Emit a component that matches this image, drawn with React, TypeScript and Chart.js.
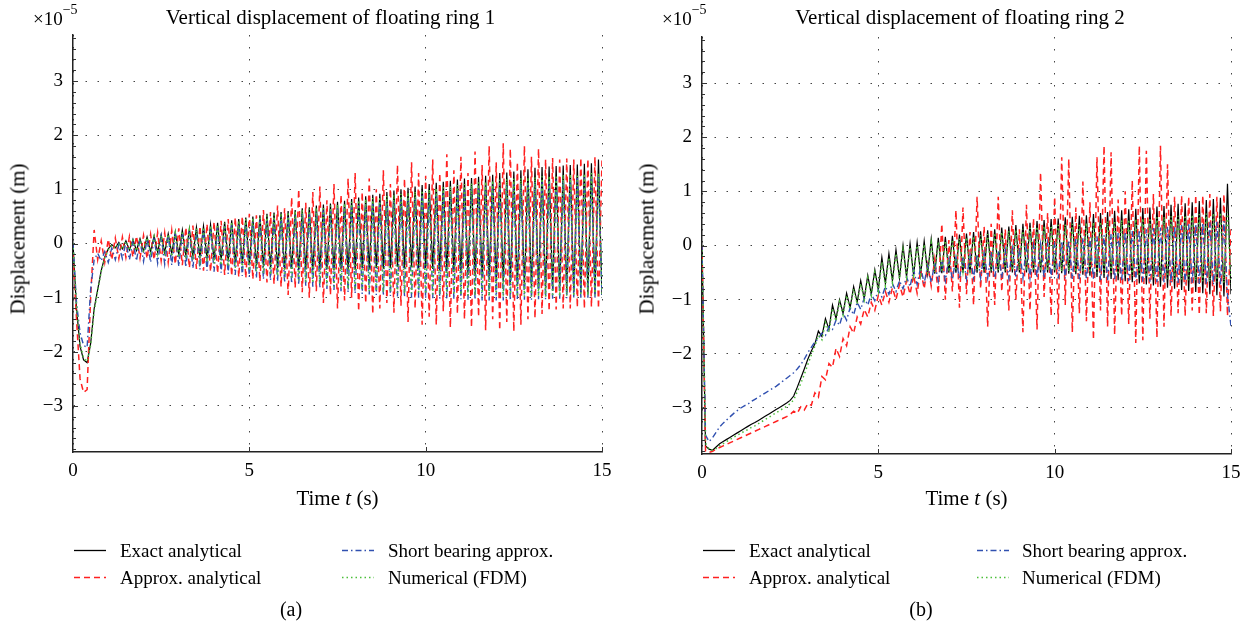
import React, { useEffect, useRef } from "react";
import { Chart, registerables } from "chart.js";

Chart.register(...registerables);

// ---------- data (values in units of 1e-5 m), sampled every 0.1 s from 0 to 15 s ----------
const TIME_STEP = 0.1;
const X_TICKS = [0, 5, 10, 15];
const Y_TICKS = [-3, -2, -1, 0, 1, 2, 3];
const Y_MIN = -3.85;
const Y_MAX = 3.85;
const MINOR_STEP = 0.2;

const SERIES_NAMES = ["Exact analytical", "Approx. analytical", "Short bearing approx.", "Numerical (FDM)"];

// Ring 1
const RING1_EXACT = [
  0, -1.2, -1.9, -2.15, -2.2, -1.85, -1.2, -0.85, -0.5, -0.25,
  -0.1, -0.02, -0.08, 0.02, -0.1, 0.05, -0.12, 0.07, -0.13, 0.09,
  -0.14, 0.12, -0.15, 0.14, -0.16, 0.16, -0.17, 0.18, -0.18, 0.21,
  -0.2, 0.25, -0.22, 0.27, -0.24, 0.3, -0.25, 0.32, -0.27, 0.35,
  -0.3, 0.38, -0.31, 0.4, -0.33, 0.43, -0.35, 0.45, -0.37, 0.48,
  -0.4, 0.5, -0.41, 0.52, -0.43, 0.55, -0.44, 0.57, -0.46, 0.58,
  -0.48, 0.6, -0.47, 0.62, -0.5, 0.65, -0.48, 0.67, -0.5, 0.7,
  -0.5, 0.72, -0.48, 0.74, -0.5, 0.77, -0.47, 0.79, -0.5, 0.82,
  -0.48, 0.85, -0.46, 0.87, -0.48, 0.9, -0.45, 0.92, -0.47, 0.95,
  -0.45, 0.98, -0.43, 1.0, -0.46, 1.03, -0.44, 1.05, -0.46, 1.08,
  -0.45, 1.1, -0.47, 1.12, -0.5, 1.14, -0.52, 1.16, -0.53, 1.18,
  -0.55, 1.2, -0.58, 1.21, -0.6, 1.23, -0.63, 1.25, -0.66, 1.27,
  -0.7, 1.3, -0.72, 1.31, -0.75, 1.33, -0.78, 1.35, -0.8, 1.37,
  -0.83, 1.4, -0.84, 1.41, -0.86, 1.42, -0.87, 1.43, -0.88, 1.44,
  -0.9, 1.45, -0.9, 1.46, -0.91, 1.47, -0.92, 1.48, -0.93, 1.55,
  -0.95,
];
const RING1_APPROX = [
  -0.2, -1.4, -2.5, -2.75, -2.7, -1.0, 0.25, -0.3, 0.05, -0.35,
  0.08, -0.3, 0.1, -0.28, 0.12, -0.26, 0.13, -0.25, 0.14, -0.27,
  0.15, -0.28, 0.17, -0.3, 0.2, -0.32, 0.2, -0.35, 0.24, -0.38,
  0.28, -0.4, 0.3, -0.45, 0.33, -0.47, 0.32, -0.5, 0.36, -0.52,
  0.4, -0.55, 0.42, -0.58, 0.45, -0.6, 0.48, -0.62, 0.5, -0.64,
  0.55, -0.66, 0.52, -0.7, 0.62, -0.72, 0.58, -0.75, 0.7, -0.8,
  0.65, -0.95, 0.85, -0.82, 1.0, -0.9, 0.75, -1.0, 0.95, -0.88,
  1.05, -1.1, 0.8, -0.95, 1.1, -1.2, 0.9, -1.05, 1.2, -1.0,
  1.3, -1.25, 0.95, -1.1, 1.2, -1.3, 1.0, -1.2, 1.35, -1.1,
  1.1, -1.28, 1.45, -1.15, 1.2, -1.45, 1.5, -1.2, 1.3, -1.5,
  1.25, -1.35, 1.55, -1.5, 1.3, -1.25, 1.65, -1.55, 1.35, -1.3,
  1.6, -1.4, 1.3, -1.55, 1.7, -1.35, 1.45, -1.6, 1.8, -1.4,
  1.5, -1.6, 1.85, -1.45, 1.75, -1.62, 1.5, -1.5, 1.8, -1.4,
  1.6, -1.38, 1.75, -1.3, 1.55, -1.25, 1.58, -1.22, 1.55, -1.2,
  1.57, -1.2, 1.55, -1.18, 1.58, -1.2, 1.56, -1.17, 1.6, -1.2,
  1.55,
];
const RING1_SHORT = [
  0, -1.1, -1.65, -1.88, -1.92, -0.85, -0.3, -0.18, -0.32, -0.15,
  -0.35, -0.08, -0.3, -0.02, -0.28, 0.02, -0.3, 0.05, -0.32, 0.07,
  -0.33, 0.09, -0.35, 0.11, -0.36, 0.13, -0.38, 0.15, -0.4, 0.17,
  -0.42, 0.2, -0.44, 0.22, -0.46, 0.24, -0.48, 0.26, -0.5, 0.28,
  -0.52, 0.3, -0.54, 0.32, -0.56, 0.34, -0.58, 0.36, -0.6, 0.38,
  -0.62, 0.4, -0.64, 0.43, -0.66, 0.45, -0.68, 0.47, -0.7, 0.49,
  -0.72, 0.51, -0.74, 0.53, -0.76, 0.55, -0.78, 0.57, -0.8, 0.59,
  -0.82, 0.61, -0.84, 0.63, -0.86, 0.65, -0.88, 0.67, -0.9, 0.69,
  -0.92, 0.71, -0.93, 0.73, -0.94, 0.75, -0.95, 0.77, -0.96, 0.79,
  -0.97, 0.81, -0.98, 0.83, -0.99, 0.85, -1.0, 0.87, -1.0, 0.89,
  -1.01, 0.91, -1.01, 0.93, -1.02, 0.95, -1.02, 0.97, -1.03, 0.99,
  -1.03, 1.0, -1.04, 1.02, -1.04, 1.04, -1.05, 1.05, -1.05, 1.07,
  -1.05, 1.08, -1.05, 1.1, -1.05, 1.11, -1.04, 1.12, -1.04, 1.14,
  -1.04, 1.15, -1.03, 1.16, -1.03, 1.17, -1.02, 1.18, -1.02, 1.19,
  -1.01, 1.2, -1.01, 1.21, -1.0, 1.22, -1.0, 1.23, -1.0, 1.24,
  -1.0,
];
const RING1_FDM = [
  0, -1.15, -1.85, -2.12, -2.18, -1.88, -1.25, -0.88, -0.52, -0.27,
  -0.12, -0.03, -0.09, 0.01, -0.11, 0.04, -0.13, 0.06, -0.14, 0.08,
  -0.16, 0.11, -0.18, 0.13, -0.2, 0.15, -0.22, 0.17, -0.24, 0.2,
  -0.26, 0.23, -0.28, 0.25, -0.3, 0.28, -0.32, 0.3, -0.34, 0.33,
  -0.37, 0.35, -0.4, 0.38, -0.42, 0.4, -0.45, 0.42, -0.47, 0.45,
  -0.5, 0.47, -0.52, 0.5, -0.55, 0.52, -0.58, 0.54, -0.6, 0.56,
  -0.63, 0.58, -0.66, 0.6, -0.68, 0.62, -0.71, 0.64, -0.73, 0.66,
  -0.75, 0.68, -0.78, 0.7, -0.8, 0.72, -0.82, 0.74, -0.84, 0.77,
  -0.85, 0.8, -0.86, 0.82, -0.88, 0.84, -0.88, 0.86, -0.9, 0.88,
  -0.9, 0.9, -0.91, 0.92, -0.92, 0.94, -0.92, 0.96, -0.93, 0.98,
  -0.93, 1.0, -0.94, 1.02, -0.94, 1.04, -0.95, 1.06, -0.95, 1.08,
  -0.95, 1.1, -0.96, 1.11, -0.96, 1.13, -0.96, 1.14, -0.97, 1.16,
  -0.97, 1.18, -0.97, 1.19, -0.98, 1.2, -0.98, 1.21, -0.98, 1.22,
  -0.98, 1.23, -0.98, 1.24, -0.98, 1.25, -0.98, 1.26, -0.97, 1.27,
  -0.97, 1.28, -0.97, 1.28, -0.96, 1.29, -0.96, 1.3, -0.96, 1.3,
  -0.95,
];

// Ring 2
const RING2_EXACT = [
  0, -3.7, -3.76, -3.78, -3.72, -3.66, -3.62, -3.58, -3.54, -3.5,
  -3.46, -3.42, -3.38, -3.34, -3.3, -3.27, -3.23, -3.19, -3.15, -3.11,
  -3.07, -3.03, -2.99, -2.95, -2.91, -2.86, -2.78, -2.62, -2.45, -2.28,
  -2.1, -1.95, -1.82, -1.58, -1.68, -1.35, -1.55, -1.1, -1.35, -1.0,
  -1.25, -0.88, -1.15, -0.76, -1.05, -0.65, -0.98, -0.55, -0.9, -0.45,
  -0.82, -0.22, -0.7, -0.15, -0.65, -0.08, -0.6, 0.0, -0.58, 0.03,
  -0.55, 0.06, -0.54, 0.08, -0.52, 0.12, -0.52, 0.14, -0.51, 0.16,
  -0.5, 0.18, -0.5, 0.2, -0.5, 0.22, -0.5, 0.25, -0.5, 0.26,
  -0.5, 0.28, -0.5, 0.3, -0.5, 0.33, -0.5, 0.35, -0.5, 0.38,
  -0.5, 0.4, -0.5, 0.42, -0.5, 0.45, -0.5, 0.47, -0.5, 0.49,
  -0.5, 0.5, -0.51, 0.52, -0.52, 0.53, -0.53, 0.55, -0.54, 0.56,
  -0.56, 0.58, -0.58, 0.6, -0.6, 0.62, -0.62, 0.64, -0.64, 0.65,
  -0.66, 0.67, -0.68, 0.68, -0.7, 0.69, -0.72, 0.7, -0.74, 0.72,
  -0.76, 0.73, -0.78, 0.75, -0.8, 0.77, -0.82, 0.78, -0.84, 0.8,
  -0.86, 0.82, -0.88, 0.84, -0.9, 0.86, -0.92, 0.88, -0.94, 1.14,
  -0.9,
];
const RING2_APPROX = [
  0, -3.8, -3.82, -3.8, -3.76, -3.73, -3.7, -3.67, -3.64, -3.61,
  -3.58, -3.55, -3.52, -3.49, -3.46, -3.43, -3.4, -3.37, -3.34, -3.31,
  -3.28, -3.25, -3.22, -3.19, -3.16, -3.12, -3.06, -3.1, -2.98, -3.04,
  -2.92, -2.95, -2.72, -2.8, -2.42, -2.48, -2.18, -2.25, -1.9, -2.05,
  -1.72, -1.85, -1.5, -1.62, -1.32, -1.45, -1.18, -1.32, -1.05, -1.2,
  -0.92, -1.1, -0.85, -1.05, -0.78, -1.0, -0.72, -0.95, -0.65, -0.9,
  -0.55, -0.88, -0.45, -0.8, -0.35, -0.75, -0.25, -0.9, 0.4, -1.0,
  0.1, -0.85, 0.65, -1.15, 0.7, -0.9, 0.25, -1.1, 0.9, -0.8,
  0.35, -1.5, 0.4, -1.1, 0.9, -0.85, 0.3, -1.2, 0.65, -1.0,
  0.3, -1.6, 0.75, -1.2, 0.5, -1.55, 1.35, -0.95, 0.6, -1.3,
  0.9, -1.45, 1.63, -1.1, 1.6, -1.6, 0.7, -1.25, 1.18, -1.4,
  0.8, -1.74, 1.63, -1.2, 1.84, -1.5, 1.72, -1.65, 0.85, -1.3,
  1.0, -1.45, 1.2, -1.8, 1.84, -1.75, 1.75, -1.35, 0.95, -1.7,
  1.84, -1.5, 1.5, -1.3, 0.9, -1.25, 0.92, -1.3, 0.9, -1.2,
  0.93, -1.28, 0.92, -1.25, 0.95, -1.3, 0.9, -1.22, 0.95, -1.3,
  0.3,
];
const RING2_SHORT = [
  0, -3.5, -3.62, -3.55, -3.45, -3.35, -3.28, -3.22, -3.16, -3.1,
  -3.05, -3.0, -2.96, -2.93, -2.88, -2.84, -2.8, -2.76, -2.72, -2.68,
  -2.64, -2.6, -2.55, -2.5, -2.45, -2.4, -2.35, -2.28, -2.2, -2.1,
  -1.98, -1.88, -1.78, -1.72, -1.62, -1.66, -1.5, -1.55, -1.38, -1.47,
  -1.25, -1.38, -1.15, -1.28, -1.05, -1.18, -0.97, -1.1, -0.9, -1.02,
  -0.82, -0.95, -0.76, -0.9, -0.7, -0.85, -0.65, -0.8, -0.58, -0.76,
  -0.45, -0.72, -0.4, -0.7, -0.36, -0.68, -0.32, -0.66, -0.28, -0.65,
  -0.25, -0.63, -0.22, -0.62, -0.2, -0.62, -0.18, -0.6, -0.16, -0.6,
  -0.14, -0.6, -0.12, -0.6, -0.1, -0.6, -0.08, -0.6, -0.06, -0.6,
  -0.04, -0.6, -0.02, -0.6, 0.0, -0.6, 0.02, -0.6, 0.04, -0.6,
  0.06, -0.61, 0.08, -0.61, 0.1, -0.62, 0.12, -0.62, 0.14, -0.63,
  0.15, -0.63, 0.17, -0.64, 0.19, -0.64, 0.21, -0.65, 0.23, -0.65,
  0.25, -0.66, 0.27, -0.66, 0.29, -0.67, 0.3, -0.67, 0.32, -0.68,
  0.33, -0.68, 0.35, -0.69, 0.36, -0.69, 0.38, -0.7, 0.39, -0.7,
  0.4, -0.71, 0.42, -0.71, 0.43, -0.72, 0.44, -0.72, 0.45, -0.9,
  -1.5,
];
const RING2_FDM = [
  0, -3.65, -3.76, -3.78, -3.75, -3.7, -3.66, -3.62, -3.58, -3.54,
  -3.5, -3.47, -3.43, -3.4, -3.36, -3.33, -3.29, -3.25, -3.21, -3.17,
  -3.13, -3.09, -3.05, -3.01, -2.97, -2.92, -2.85, -2.7, -2.55, -2.38,
  -2.2, -2.02, -1.86, -1.66, -1.74, -1.42, -1.6, -1.16, -1.4, -1.04,
  -1.28, -0.92, -1.18, -0.8, -1.08, -0.7, -1.0, -0.6, -0.92, -0.5,
  -0.84, -0.3, -0.75, -0.22, -0.68, -0.15, -0.62, -0.08, -0.58, -0.03,
  -0.55, 0.0, -0.53, 0.02, -0.52, 0.05, -0.5, 0.07, -0.49, 0.09,
  -0.48, 0.11, -0.47, 0.13, -0.47, 0.15, -0.46, 0.17, -0.46, 0.19,
  -0.46, 0.21, -0.46, 0.23, -0.46, 0.25, -0.46, 0.27, -0.46, 0.29,
  -0.46, 0.31, -0.46, 0.33, -0.47, 0.35, -0.47, 0.36, -0.47, 0.37,
  -0.47, 0.38, -0.48, 0.39, -0.48, 0.4, -0.49, 0.41, -0.49, 0.42,
  -0.5, 0.43, -0.51, 0.44, -0.52, 0.45, -0.53, 0.46, -0.54, 0.47,
  -0.55, 0.48, -0.56, 0.49, -0.57, 0.5, -0.58, 0.51, -0.59, 0.52,
  -0.6, 0.53, -0.61, 0.54, -0.62, 0.55, -0.63, 0.56, -0.64, 0.57,
  -0.65, 0.58, -0.66, 0.59, -0.67, 0.6, -0.68, 0.61, -0.69, 0.62,
  -0.7,
];

const TIME = RING1_EXACT.map((_, i) => Math.round(i * TIME_STEP * 10) / 10);

// ---------- styles ----------
const FONT = "'Liberation Serif', 'Times New Roman', serif";
const STYLES = [
  { color: "#000000", dash: [] as number[], width: 1.2, order: 3 },
  { color: "#ff2020", dash: [6, 4], width: 1.5, order: 2 },
  { color: "#3050b0", dash: [6, 3, 1.5, 3], width: 1.4, order: 1 },
  { color: "#4cbf3a", dash: [1.5, 3], width: 1.5, order: 0 },
];

const inwardTicks = {
  id: "inwardTicks",
  afterDatasetsDraw(chart: any) {
    const { ctx, chartArea, scales } = chart;
    const xs = scales.x;
    const ys = scales.y;
    ctx.save();
    ctx.strokeStyle = "#333";
    ctx.lineWidth = 1;
    ctx.beginPath();
    for (let k = Math.ceil(Y_MIN / MINOR_STEP); k * MINOR_STEP <= Y_MAX; k++) {
      const v = k * MINOR_STEP;
      const major = Math.abs(v - Math.round(v)) < 1e-6;
      const p = Math.round(ys.getPixelForValue(v)) + 0.5;
      ctx.moveTo(chartArea.left, p);
      ctx.lineTo(chartArea.left + (major ? 5 : 3), p);
    }
    for (const v of X_TICKS) {
      if (v === 0) continue;
      const p = Math.round(xs.getPixelForValue(v)) + 0.5;
      ctx.moveTo(p, chartArea.bottom);
      ctx.lineTo(p, chartArea.bottom - 5);
    }
    ctx.stroke();
    ctx.restore();
  },
};

function fmt(v: number) {
  return v < 0 ? "\u2212" + Math.abs(v) : String(v);
}

type PanelProps = {
  left: number;
  width: number;
  height: number;
  padTop: number;
  padRight: number;
  yAxisW: number;
  xAxisH: number;
  series: number[][];
};

function Panel({ left, width, height, padTop, padRight, yAxisW, xAxisH, series }: PanelProps) {
  const ref = useRef<HTMLCanvasElement>(null);
  useEffect(() => {
    const datasets = series.map((vals, k) => ({
      label: SERIES_NAMES[k],
      data: vals.map((y, i) => ({ x: TIME[i], y })),
      borderColor: STYLES[k].color,
      borderDash: STYLES[k].dash,
      borderWidth: STYLES[k].width,
      pointRadius: 0,
      fill: false,
      tension: 0,
      order: STYLES[k].order,
    }));
    const tickFont = { family: FONT, size: 19 };
    const chart = new Chart(ref.current as HTMLCanvasElement, {
      type: "line",
      data: { datasets } as any,
      options: {
        responsive: false,
        maintainAspectRatio: false,
        animation: false,
        events: [],
        layout: { padding: { top: padTop, right: padRight, left: 0, bottom: 0 } },
        plugins: { legend: { display: false }, tooltip: { enabled: false }, title: { display: false } },
        scales: {
          x: {
            type: "linear",
            min: 0,
            max: 15,
            afterBuildTicks: (s: any) => {
              s.ticks = X_TICKS.map((v) => ({ value: v }));
            },
            afterFit: (s: any) => {
              s.height = xAxisH;
            },
            grid: { color: "#444", lineWidth: 1, drawTicks: false },
            border: { display: true, color: "#222", width: 1.5, dash: [1.5, 10.5] },
            ticks: { font: tickFont, color: "#000", padding: 8, maxRotation: 0, callback: (v: any) => fmt(Number(v)) },
          },
          y: {
            type: "linear",
            min: Y_MIN,
            max: Y_MAX,
            afterBuildTicks: (s: any) => {
              s.ticks = Y_TICKS.map((v) => ({ value: v }));
            },
            afterFit: (s: any) => {
              s.width = yAxisW;
            },
            grid: { color: "#444", lineWidth: 1, drawTicks: false },
            border: { display: true, color: "#222", width: 1.5, dash: [1.5, 10.5] },
            ticks: { font: tickFont, color: "#000", padding: 10, callback: (v: any) => fmt(Number(v)) },
          },
        },
      } as any,
      plugins: [inwardTicks],
    });
    return () => chart.destroy();
  }, []);
  return (
    <canvas
      ref={ref}
      width={width}
      height={height}
      style={{ position: "absolute", left, top: 0, width, height }}
    />
  );
}

// Places text so that its baseline sits at y.
function Text({ x, y, size, center, children }: { x: number; y: number; size: number; center?: boolean; children: any }) {
  const lh = size + 4;
  const top = y - ((lh - 1.107 * size) / 2 + 0.891 * size);
  return (
    <div
      style={{
        position: "absolute",
        left: x,
        top,
        fontSize: size,
        lineHeight: lh + "px",
        whiteSpace: "nowrap",
        transform: center ? "translateX(-50%)" : undefined,
      }}
    >
      {children}
    </div>
  );
}

function YLabel({ x, y }: { x: number; y: number }) {
  return (
    <div
      style={{
        position: "absolute",
        left: x,
        top: y,
        fontSize: 21,
        lineHeight: "25px",
        whiteSpace: "nowrap",
        transform: "translate(-50%, -50%) rotate(-90deg)",
      }}
    >
      Displacement (m)
    </div>
  );
}

function Exp({ x }: { x: number }) {
  return (
    <Text x={x} y={25} size={19}>
      ×10
      <span style={{ position: "relative", top: -11, fontSize: 14 }}>−5</span>
    </Text>
  );
}

function LegendBlock({ c1, c2, t1, t2 }: { c1: number; c2: number; t1: number; t2: number }) {
  const rows = [550.5, 577.5];
  const items = [
    { k: 0, lx: c1, tx: t1, row: 0 },
    { k: 1, lx: c1, tx: t1, row: 1 },
    { k: 2, lx: c2, tx: t2, row: 0 },
    { k: 3, lx: c2, tx: t2, row: 1 },
  ];
  return (
    <>
      <svg style={{ position: "absolute", left: 0, top: 0 }} width={1249} height={630}>
        {items.map((it) => (
          <line
            key={it.k}
            x1={it.lx}
            x2={it.lx + 32}
            y1={rows[it.row]}
            y2={rows[it.row]}
            stroke={STYLES[it.k].color}
            strokeWidth={1.3}
            strokeDasharray={STYLES[it.k].dash.length ? STYLES[it.k].dash.join(" ") : undefined}
          />
        ))}
      </svg>
      {items.map((it) => (
        <Text key={"t" + it.k} x={it.tx} y={rows[it.row] + 6.5} size={19}>
          {SERIES_NAMES[it.k]}
        </Text>
      ))}
    </>
  );
}

export default function App() {
  return (
    <div
      style={{
        position: "fixed",
        left: 0,
        top: 0,
        width: 1249,
        height: 630,
        background: "#fff",
        fontFamily: FONT,
        color: "#000",
        overflow: "hidden",
      }}
    >
      <Panel
        left={0}
        width={620}
        height={500}
        padTop={35}
        padRight={18}
        yAxisW={73}
        xAxisH={48}
        series={[RING1_EXACT, RING1_APPROX, RING1_SHORT, RING1_FDM]}
      />
      <Panel
        left={630}
        width={619}
        height={500}
        padTop={37}
        padRight={18}
        yAxisW={72}
        xAxisH={46}
        series={[RING2_EXACT, RING2_APPROX, RING2_SHORT, RING2_FDM]}
      />

      <Exp x={33} />
      <Exp x={662} />
      <Text x={330.5} y={25} size={21} center>
        Vertical displacement of floating ring 1
      </Text>
      <Text x={960} y={25} size={21} center>
        Vertical displacement of floating ring 2
      </Text>
      <YLabel x={18} y={239} />
      <YLabel x={647} y={239} />
      <Text x={337.5} y={506} size={21} center>
        Time <i>t</i> (s)
      </Text>
      <Text x={966.5} y={506} size={21} center>
        Time <i>t</i> (s)
      </Text>

      <LegendBlock c1={74} c2={342} t1={120} t2={388} />
      <LegendBlock c1={703} c2={977} t1={749} t2={1022} />

      <Text x={291} y={616} size={20} center>
        (a)
      </Text>
      <Text x={921} y={616} size={20} center>
        (b)
      </Text>
    </div>
  );
}
